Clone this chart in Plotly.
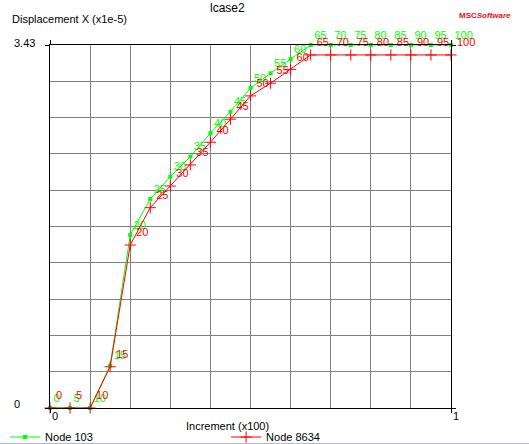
import plotly.graph_objects as go

# increments (x100) and displacement X (x1e-5) per node
increments = [0, 5, 10, 15, 20, 25, 30, 35, 40, 45, 50,
              55, 60, 65, 70, 75, 80, 85, 90, 95, 100]
node_103 = [0, 0, 0, 0.40, 1.635, 1.975, 2.186, 2.375, 2.596, 2.80, 3.022,
            3.163, 3.296, 3.43, 3.43, 3.43, 3.43, 3.43, 3.43, 3.43, 3.43]
node_8634 = [0, 0, 0, 0.39, 1.54, 1.893, 2.098, 2.297, 2.511, 2.729, 2.949,
             3.069, 3.20, 3.336, 3.336, 3.336, 3.336, 3.336, 3.336, 3.336, 3.336]
y_max = 3.43

GREEN = "#00FF00"
RED = "#FF0000"
FONT = "Liberation Sans, Arial, sans-serif"

xs = [i / 100 for i in increments]
labels = [str(i) for i in increments]

fig = go.Figure()
fig.add_trace(go.Scatter(
    x=xs, y=node_103, mode="lines+markers+text", name="Node 103",
    line=dict(color=GREEN, width=1),
    marker=dict(symbol="square", size=4, color=GREEN),
    text=labels, textposition="top right",
    textfont=dict(color=GREEN, size=11, family=FONT),
    cliponaxis=False))
fig.add_trace(go.Scatter(
    x=xs, y=node_8634, mode="lines+markers+text", name="Node 8634",
    line=dict(color=RED, width=1),
    marker=dict(symbol="cross-thin", size=8, color=RED,
                line=dict(color=RED, width=1)),
    text=labels, textposition="top right",
    textfont=dict(color=RED, size=11, family=FONT),
    cliponaxis=False))

axis_common = dict(showline=True, linecolor="black", linewidth=1,
                   mirror="ticks", ticks="outside", ticklen=4,
                   tickcolor="black", showticklabels=False,
                   showgrid=False, zeroline=False, fixedrange=True)

fig.update_xaxes(range=[0, 1], tickvals=[0, 1],
                 minor=dict(tickmode="linear", tick0=0, dtick=0.1,
                            showgrid=True, gridcolor="#808080",
                            gridwidth=1, ticks=""),
                 **axis_common)
fig.update_yaxes(range=[0, y_max], tickvals=[0, y_max],
                 minor=dict(tickmode="linear", tick0=0, dtick=y_max / 10,
                            showgrid=True, gridcolor="#808080",
                            gridwidth=1, ticks=""),
                 **axis_common)

fig.update_layout(
    width=529, height=444,
    margin=dict(l=50, r=78, t=45, b=36, autoexpand=False),
    paper_bgcolor="white", plot_bgcolor="white",
    font=dict(family=FONT, size=11, color="black"),
    showlegend=True,
    legend=dict(orientation="h", x=-0.112, y=-0.040, xanchor="left",
                yanchor="top", entrywidth=176, entrywidthmode="pixels",
                font=dict(family=FONT, size=11), bgcolor="rgba(0,0,0,0)",
                itemclick=False, tracegroupgap=0),
)

W, H = 401, 363  # plot area in px
ann_font = dict(family=FONT, size=11, color="black")


def px_x(p):
    return (p - 50) / W


def px_y(p):
    return (408 - p) / H


def note(text, x, y, xref="paper", yref="paper", xanchor="left", **kw):
    fig.add_annotation(text=text, x=x, y=y, xref=xref, yref=yref,
                       xanchor=xanchor, yanchor="middle", showarrow=False,
                       font=kw.pop("font", ann_font), **kw)


note("lcase2", px_x(227), px_y(8), xanchor="center",
     font=dict(ann_font, size=12))
note("Displacement X (x1e-5)", px_x(10), px_y(19))
note("Increment (x100)", px_x(227), px_y(426), xanchor="center")
note("3.43", px_x(12), y_max, yref="y", yshift=2)
note("0", px_x(12), 0, yref="y", yshift=4)
note("0", 0, px_y(416), xref="x")
note("1", 1, px_y(416), xref="x")
note("<b>MSC</b><b><i>Software</i></b>", px_x(485), px_y(15),
     xanchor="center", font=dict(family=FONT, size=8, color="#E8101A"))
fig.add_shape(type="line", xref="paper", yref="paper", x0=px_x(0),
              x1=px_x(529), y0=px_y(443.5), y1=px_y(443.5),
              line=dict(color="#A8B8E8", width=1))

fig.write_html("out.html", config={"displayModeBar": False},
               post_script="document.body.style.margin='0';"
                           "document.body.style.overflow='hidden';")
